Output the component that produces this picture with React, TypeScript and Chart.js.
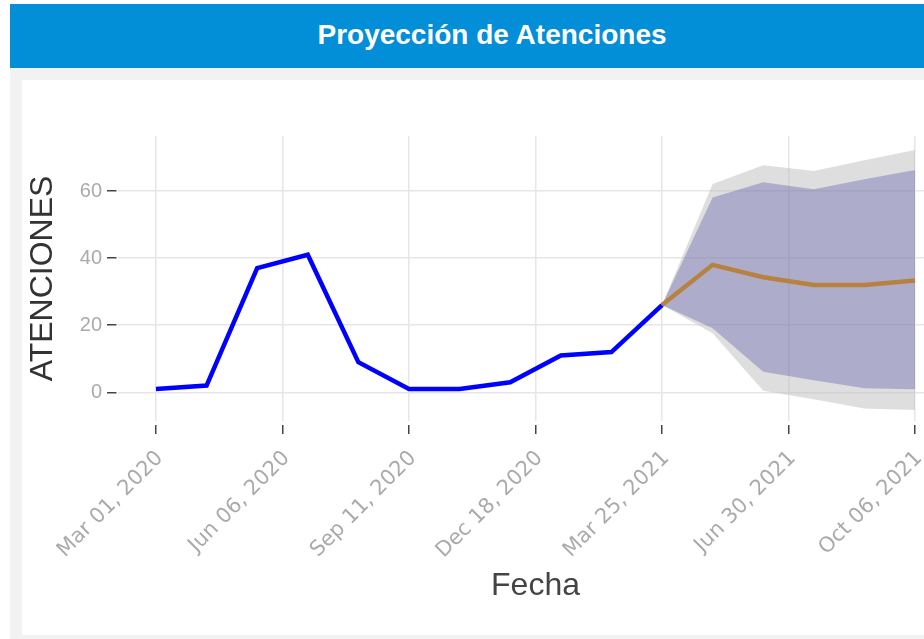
import React, { useEffect, useRef } from "react";
import { Chart, registerables } from "chart.js";

Chart.register(...registerables);

// ---- data ----
const historyPeriods = [0, 1, 2, 3, 4, 5, 6, 7, 8, 9, 10];
const historyValues = [1, 2, 37, 41, 9, 1, 1, 3, 11, 12, 26];

const forecastPeriods = [10, 11, 12, 13, 14, 15];
const forecastValues = [26, 38, 34.3, 32, 32, 33.3];
const innerLower = [26, 19.1, 6.1, 3.6, 1.2, 0.9];
const innerUpper = [26, 58.1, 62.6, 60.5, 63.5, 66.3];
const outerLower = [26, 17.6, 0.5, -2.1, -4.8, -5.3];
const outerUpper = [26, 62.1, 67.7, 66.0, 69.2, 72.2];

const xTickPositions = [0, 2.5, 5, 7.5, 10, 12.5, 15];
const xTickLabels = [
  "Mar 01, 2020",
  "Jun 06, 2020",
  "Sep 11, 2020",
  "Dec 18, 2020",
  "Mar 25, 2021",
  "Jun 30, 2021",
  "Oct 06, 2021",
];
const yTickValues = [0, 20, 40, 60];

const toPoints = (xs: number[], ys: number[]) => xs.map((x, i) => ({ x, y: ys[i] }));

export default function App() {
  const ref = useRef<HTMLCanvasElement>(null);

  useEffect(() => {
    const canvas = ref.current;
    if (!canvas) return;
    const chart = new Chart(canvas, {
      type: "line",
      data: {
        datasets: [
          {
            label: "outerLower",
            data: toPoints(forecastPeriods, outerLower),
            borderWidth: 0,
            pointRadius: 0,
            fill: false,
            order: 5,
          },
          {
            label: "outerUpper",
            data: toPoints(forecastPeriods, outerUpper),
            borderWidth: 0,
            pointRadius: 0,
            fill: "-1",
            backgroundColor: "rgba(190,190,190,0.5)",
            order: 4,
          },
          {
            label: "innerLower",
            data: toPoints(forecastPeriods, innerLower),
            borderWidth: 0,
            pointRadius: 0,
            fill: false,
            order: 3,
          },
          {
            label: "innerUpper",
            data: toPoints(forecastPeriods, innerUpper),
            borderWidth: 0,
            pointRadius: 0,
            fill: "-1",
            backgroundColor: "rgba(60,60,160,0.3)",
            order: 2,
          },
          {
            label: "Proyección",
            data: toPoints(forecastPeriods, forecastValues),
            borderColor: "#b7823f",
            borderWidth: 4.5,
            pointRadius: 0,
            fill: false,
            order: 1,
          },
          {
            label: "Atenciones",
            data: toPoints(historyPeriods, historyValues),
            borderColor: "#0000ff",
            borderWidth: 4.5,
            pointRadius: 0,
            fill: false,
            order: 0,
          },
        ],
      },
      options: {
        animation: false,
        responsive: false,
        layout: { padding: { left: 0, right: 19, top: 56, bottom: 0 } },
        plugins: {
          legend: { display: false },
          tooltip: { enabled: false },
          title: { display: false },
        },
        scales: {
          x: {
            type: "linear",
            min: -0.75,
            max: 15.75,
            afterFit: (s: any) => {
              s.height = 214;
            },
            afterBuildTicks: (s: any) => {
              s.ticks = xTickPositions.map((v) => ({ value: v }));
            },
            ticks: {
              autoSkip: false,
              minRotation: 45,
              maxRotation: 45,
              padding: 12,
              labelOffset: 4,
              color: "#aaaaaa",
              font: { family: "'DejaVu Sans', Verdana, sans-serif", size: 21 },
              callback: (_v: any, i: number) => xTickLabels[i],
            },
            grid: {
              color: "#e6e6e6",
              lineWidth: 1.5,
              tickLength: 13,
              tickColor: "#444444",
              tickWidth: 1.5,
              tickBorderDash: [0, 4, 9, 4],
            },
            border: { display: false },
            title: {
              display: true,
              text: "Fecha",
              color: "#444444",
              font: { family: "'Liberation Sans', Arial, sans-serif", size: 32, lineHeight: 1.2 },
              padding: { top: 0, bottom: 30 },
            },
          },
          y: {
            type: "linear",
            min: -8.55,
            max: 76.4,
            afterFit: (s: any) => {
              s.width = 96;
            },
            afterBuildTicks: (s: any) => {
              s.ticks = yTickValues.map((v) => ({ value: v }));
            },
            ticks: {
              padding: 5,
              color: "#aaaaaa",
              font: { family: "'Liberation Sans', Arial, sans-serif", size: 20 },
              callback: (v: any) => String(v),
            },
            grid: {
              color: "#e6e6e6",
              lineWidth: 1.5,
              tickLength: 11,
              tickColor: "#444444",
              tickWidth: 1.5,
              tickBorderDash: [9.5, 10],
            },
            border: { display: false },
            title: {
              display: true,
              text: "ATENCIONES",
              color: "#333333",
              font: { family: "'Liberation Sans', Arial, sans-serif", size: 32, lineHeight: 1.2 },
              padding: { top: 2, bottom: 0 },
            },
          },
        },
      },
    } as any);
    return () => chart.destroy();
  }, []);

  return (
    <div
      style={{
        position: "fixed",
        left: 0,
        top: 0,
        width: 924,
        height: 639,
        overflow: "hidden",
        background: "#ffffff",
      }}
    >
      <div
        style={{
          position: "absolute",
          left: 10,
          top: 68,
          width: 1000,
          height: 571,
          background: "#f2f2f2",
        }}
      />
      <div
        style={{
          position: "absolute",
          left: 10,
          top: 4,
          width: 964,
          height: 64,
          background: "#038ed8",
          color: "#ffffff",
          font: "bold 28px 'Liberation Sans', Arial, sans-serif",
          display: "flex",
          alignItems: "center",
          justifyContent: "center",
          boxSizing: "border-box",
          paddingBottom: 3,
        }}
      >
        Proyección de Atenciones
      </div>
      <div
        style={{
          position: "absolute",
          left: 22,
          top: 80,
          width: 1000,
          height: 555,
          background: "#ffffff",
        }}
      >
        <canvas
          ref={ref}
          width={950}
          height={555}
          style={{ display: "block", width: 950, height: 555 }}
        />
      </div>
    </div>
  );
}
